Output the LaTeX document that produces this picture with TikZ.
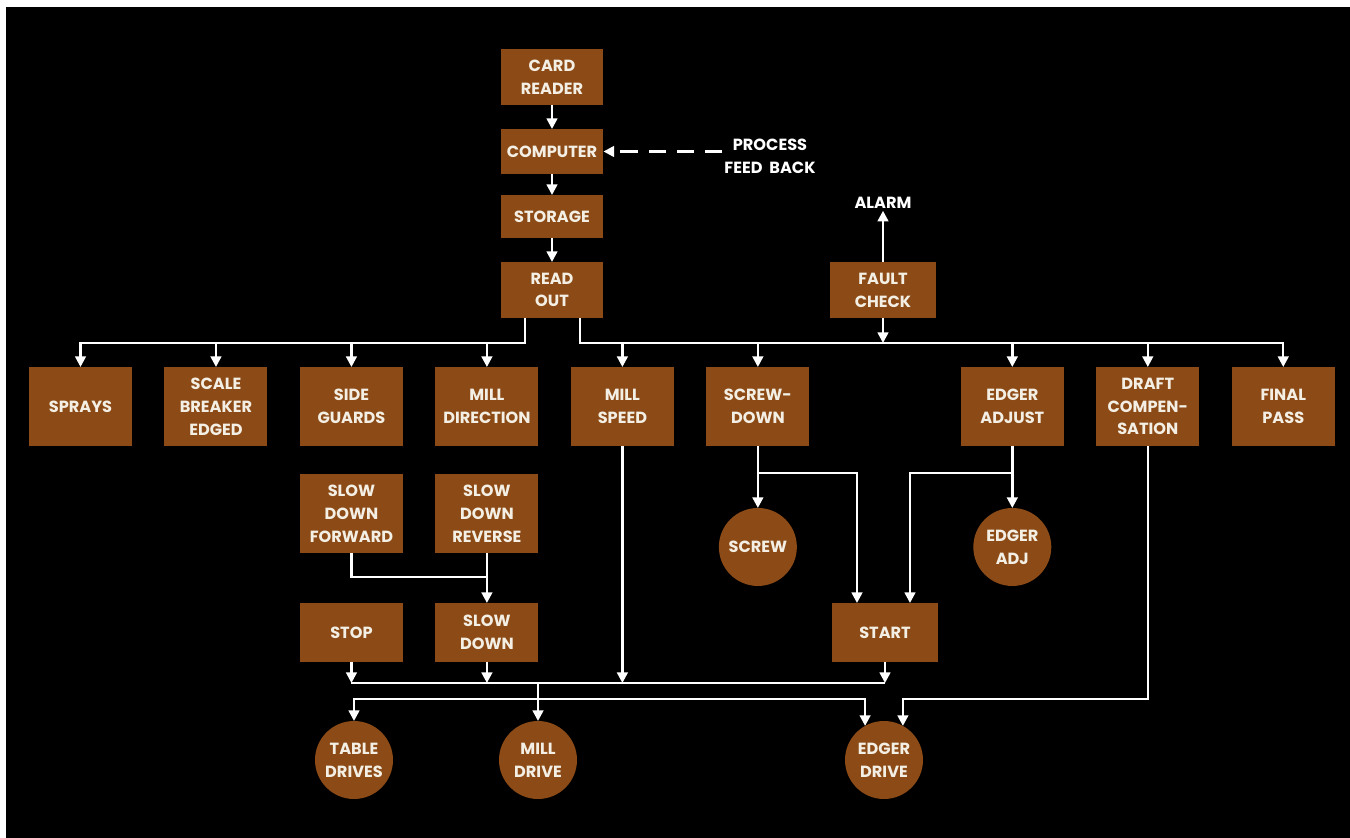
\documentclass[tikz,border=0pt]{standalone}
\usepackage{fontspec}
\setmainfont{Poppins}
\usepackage{xcolor}
\usepackage{tikz}
\usetikzlibrary{arrows.meta,positioning}
\definecolor{millbrown}{HTML}{8C4B16}
\definecolor{labelcream}{HTML}{F4EFE4}

\begin{document}
\begin{tikzpicture}[x=0.02cm,y=-0.02cm,
 font=\bfseries\fontsize{9.2}{13}\selectfont,
 unit/.style={fill=millbrown,text=labelcream,minimum width=2.06cm,
 minimum height=1.58cm,align=center,inner sep=2pt,outer sep=0pt},
 drive/.style={circle,fill=millbrown,text=labelcream,minimum size=1.56cm,
 align=center,inner sep=1pt,outer sep=0pt},
 note/.style={text=white,align=center,inner sep=1pt},
 wire/.style={draw=white,line width=1.4pt},
 flow/.style={wire,-{Triangle[length=6pt,width=6pt]}}]
\fill[white] (0,0) rectangle (1350,838);
\fill[black] (6,7) rectangle (1350,838);
% control chain
\node[unit,minimum height=1.12cm] (card) at (552,77) {CARD\\READER};
\node[unit,minimum height=0.9cm,below=0.48cm of card] (comp) {COMPUTER};
\node[unit,minimum height=0.86cm,below=0.42cm of comp] (store) {STORAGE};
\node[unit,minimum height=1.12cm,below=0.48cm of store] (readout) {READ\\OUT};
\node[note] (fbtxt) at (770,156) {PROCESS\\FEED\ \ BACK};
\node[unit,minimum width=2.14cm,minimum height=1.12cm] (fault) at (883,290) {FAULT\\CHECK};
\node[note] (alarm) at (883,203) {ALARM};
% function row
\node[unit] (sprays) at (80.5,406.5) {SPRAYS};
\node[unit,right=0.65cm of sprays] (scale) {SCALE\\BREAKER\\EDGED};
\node[unit,right=0.65cm of scale] (side) {SIDE\\GUARDS};
\node[unit,right=0.65cm of side] (milldir) {MILL\\DIRECTION};
\node[unit,right=0.65cm of milldir] (millspeed) {MILL\\SPEED};
\node[unit,right=0.65cm of millspeed] (screwdown) {SCREW-\\DOWN};
\node[unit,right=3.03cm of screwdown] (edgeradj) {EDGER\\ADJUST};
\node[unit,right=0.65cm of edgeradj] (draft) {DRAFT\\COMPEN-\\SATION};
\node[unit,right=0.65cm of draft] (final) {FINAL\\PASS};
% lower stages
\node[unit,below=0.56cm of side] (sdfwd) {SLOW\\DOWN\\FORWARD};
\node[unit,below=0.56cm of milldir] (sdrev) {SLOW\\DOWN\\REVERSE};
\node[unit,minimum height=1.18cm,below=1.0cm of sdfwd] (stop) {STOP};
\node[unit,minimum height=1.18cm,below=1.0cm of sdrev] (slowdown) {SLOW\\DOWN};
\node[unit,minimum width=2.12cm,minimum height=1.18cm] (start) at (885,632.5) {START};
\node[drive,below=1.24cm of screwdown] (screw) {SCREW};
\node[drive,below=1.24cm of edgeradj] (edgadj) {EDGER\\ADJ};
\node[drive] (tabledrv) at (354,760) {TABLE\\DRIVES};
\node[drive] (milldrv) at (538,760) {MILL\\DRIVE};
\node[drive] (edgerdrv) at (884,760) {EDGER\\DRIVE};
\coordinate (topbus) at (0,343); \coordinate (brk) at (0,473);
\coordinate (sdjoin) at (0,577); \coordinate (lowbus) at (0,683);
\coordinate (drvbus) at (0,699);
% connectors
\draw[flow] (card)--(comp); \draw[flow] (comp)--(store); \draw[flow] (store)--(readout);
\draw[flow,dash pattern=on 10pt off 6pt] (fbtxt.west |- comp)--(comp);
\draw[flow] (fault)--(fault |- alarm.south); \draw[flow] (fault)--(fault |- topbus);
\draw[flow] ([xshift=-0.54cm]readout.south) |- (sprays.north |- topbus)--(sprays);
\foreach \n in {scale,side,milldir} \draw[flow] (\n.north |- topbus)--(\n);
\draw[flow] ([xshift=0.56cm]readout.south) |- (final.north |- topbus)--(final);
\foreach \n in {millspeed,screwdown,edgeradj,draft} \draw[flow] (\n.north |- topbus)--(\n);
\draw[flow] (screwdown)--(screw); \draw[flow] (screwdown.south |- brk) -| ([xshift=-0.56cm]start.north);
\draw[flow] (edgeradj)--(edgadj); \draw[flow] (edgeradj.south |- brk) -| ([xshift=0.5cm]start.north);
\draw[flow] (sdrev)--(slowdown); \draw[wire] (sdfwd) |- (sdrev |- sdjoin);
\foreach \n in {stop,slowdown,start,millspeed} \draw[flow] (\n)--(\n |- lowbus);
\draw[wire] (stop |- lowbus)--(start |- lowbus);
\draw[flow] (milldrv |- lowbus)--(milldrv);
\draw[flow] (milldrv |- drvbus) -| (tabledrv); \draw[flow] (milldrv |- drvbus) -| (edgerdrv.119);
\draw[flow] (draft) |- (edgerdrv.61 |- drvbus)--(edgerdrv.61);
\end{tikzpicture}
\end{document}
